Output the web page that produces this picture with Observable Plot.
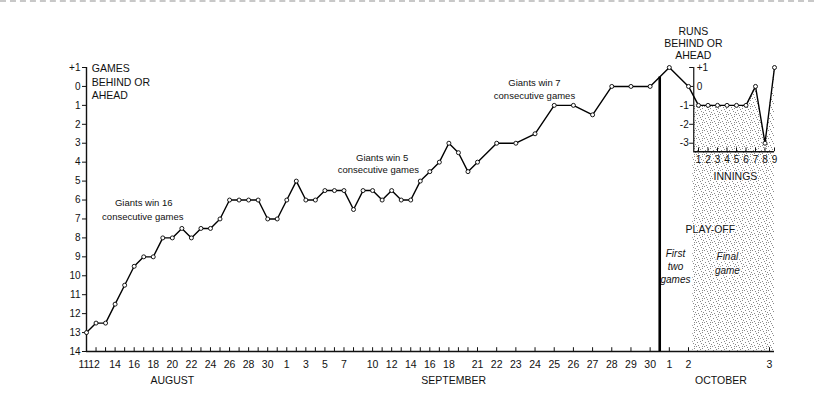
<!DOCTYPE html>
<html><head><meta charset="utf-8">
<script src="https://cdn.jsdelivr.net/npm/d3@7"></script>
<script src="https://cdn.jsdelivr.net/npm/@observablehq/plot@0.6"></script>
<style>
body{margin:0;background:#fff}
#chart{position:relative;width:814px;height:401px;border-top:2px dashed #c8c8c8;box-sizing:border-box}
</style>
</head><body><div id="chart"></div>
<script>
// ---- data ----
// day index: 0 = Aug 11, 21 = Sep 1, 51 = Oct 1
const days = [0,1,2,3,4,5,6,7,8,9,10,11,12,13,14,15,16,17,18,19,20,21,22,23,24,25,26,27,28,29,30,31,32,33,34,35,36,37,38,39,40,41,42,43,44,45,46,47,48,49,50,51,52];
const gamesBehind = [13,12.5,12.5,11.5,10.5,9.5,9,9,8,8,7.5,8,7.5,7.5,7,6,6,6,6,7,7,6,5,6,6,5.5,5.5,5.5,6.5,5.5,5.5,6,5.5,6,6,5,4.5,4,3,3.5,4.5,4,3,3,2.5,1,1,1.5,0,0,0,-1,0];
const innings = [1,2,3,4,5,6,7,8,9];
const runsAhead = [-1,-1,-1,-1,-1,-1,0,-3,1];
const yTickValues = [-1,0,1,2,3,4,5,6,7,8,9,10,11,12,13,14];
const yTickLabels = ["+1","0","1","2","3","4","5","6","7","8","9","10","11","12","13","14"];
const xTickDays = [0,1,3,5,7,9,11,13,15,17,19,21,23,25,27,30,32,34,36,38,41,42,43,44,45,46,47,48,49,50,51,52,53];
const xTickLabels = ["11","12","14","16","18","20","22","24","26","28","30","1","3","5","7","10","12","14","16","18","21","22","23","24","25","26","27","28","29","30","1","2","3"];
const months = ["AUGUST","SEPTEMBER","OCTOBER"];
const monthCenters = [9, 38.5, 52.4];
const insetTickRuns = [1,0,-1,-2,-3];
const insetTickLabels = ["+1","0","-1","-2","-3"];

// ---- layout helpers ----
const inningDay = i => 52 + (0.5 + 9.5 * i) / 81;   // final game drawn inside the Oct 2–3 slot
const insetBase = 3.45;
const STIP = "#fefefd";
const FONT = "Liberation Sans, Arial, sans-serif";

const season = days.map((d, i) => ({x: d, y: gamesBehind[i]}));
const finalGame = innings.map((n, i) => ({x: inningDay(n), y: -runsAhead[i]}));
const series = season.concat(finalGame);
const areaData = [{x: inningDay(0.5), y: -runsAhead[0]}].concat(finalGame);

const allDays = d3.range(0, 54);
const xTicks = xTickDays.map((d, i) => ({d, label: xTickLabels[i], i}));
const insetTicks = insetTickRuns.map((r, i) => ({r, label: insetTickLabels[i]}));

const txt = (t, x, y, o = {}) => Plot.text([t], {x: () => x, y: () => y, text: d => d, fontSize: 10, fill: "#111", fontFamily: FONT, ...o});

const chart = Plot.plot({
  width: 814, height: 401,
  marginLeft: 86, marginTop: 65, marginBottom: 52, marginRight: 40,
  style: {fontFamily: FONT, background: "transparent"},
  x: {type: "linear", domain: [0, 41, 52, 53], range: [86, 477, 688, 769], axis: null},
  y: {domain: [14, -1], axis: null},
  marks: [
    // stippled play-off panel
    Plot.rect([0], {x1: () => inningDay(0.4), x2: () => inningDay(9), y1: () => insetBase, y2: () => 14, fill: STIP}),
    Plot.areaY(areaData, {x: "x", y1: insetBase, y2: "y", fill: STIP}),
    // main axes
    Plot.ruleX([0], {y1: -1, y2: 14, stroke: "#111", strokeWidth: 1.4}),
    Plot.ruleY([14], {x1: 0, x2: inningDay(9), stroke: "#111", strokeWidth: 1.3}),
    Plot.ruleX(allDays, {x: d => d, y1: 14, y2: 13.8, stroke: "#111", strokeWidth: 1}),
    Plot.text(xTicks.filter(t => t.i === 0), {x: "d", y: 14, text: "label", dy: 13, dx: -2.5, fontSize: 10.5, fill: "#111"}),
    Plot.text(xTicks.filter(t => t.i === 1), {x: "d", y: 14, text: "label", dy: 13, dx: -2, fontSize: 10.5, fill: "#111"}),
    Plot.text(xTicks.filter(t => t.i > 1), {x: "d", y: 14, text: "label", dy: 13, fontSize: 10.5, fill: "#111"}),
    Plot.text(months, {x: (d, i) => monthCenters[i], y: 14, text: d => d, dy: 29, fontSize: 10.5, fill: "#111"}),
    Plot.ruleY(yTickValues, {y: d => d, x1: -0.42, x2: 0, stroke: "#111"}),
    Plot.text(yTickValues, {x: 0, y: d => d, text: (d, i) => yTickLabels[i], textAnchor: "end", dx: -6, fontSize: 10, fill: "#111"}),
    // boundary between season and play-off
    Plot.ruleX([50.5], {y1: -0.5, y2: 14, stroke: "#000", strokeWidth: 2.6}),
    // inset axes
    Plot.ruleX([inningDay(0.5)], {y1: -1, y2: insetBase, stroke: "#111", strokeWidth: 1.2}),
    Plot.ruleY(insetTickRuns, {y: d => -d, x1: inningDay(0.5) - 0.05, x2: inningDay(0.5), stroke: "#111"}),
    Plot.text(insetTicks.filter(t => t.r >= 0), {x: () => inningDay(0.5), y: t => -t.r, text: "label", textAnchor: "start", dx: 3, fontSize: 10, fill: "#111"}),
    Plot.text(insetTicks.filter(t => t.r < 0), {x: () => inningDay(0.5), y: t => -t.r, text: "label", textAnchor: "end", dx: -5, fontSize: 10, fill: "#111"}),
    Plot.ruleY([insetBase], {x1: inningDay(0.5), x2: inningDay(9), stroke: "#111", strokeWidth: 1.3}),
    Plot.ruleX(innings, {x: d => inningDay(d), y1: insetBase, y2: insetBase - 0.2, stroke: "#111"}),
    Plot.text(innings, {x: d => inningDay(d), y: insetBase, text: d => String(d), dy: 8, fontSize: 10, fill: "#111"}),
    // data line
    Plot.line(series, {x: "x", y: "y", stroke: "#000", strokeWidth: 1.4}),
    Plot.dot(series, {x: "x", y: "y", r: 2, fill: "#fff", stroke: "#000", strokeWidth: 0.9}),
    // labels
    txt("GAMES", 0.55, -0.96, {textAnchor: "start", fontSize: 10.5}),
    txt("BEHIND OR", 0.55, -0.21, {textAnchor: "start", fontSize: 10.5}),
    txt("AHEAD", 0.55, 0.48, {textAnchor: "start", fontSize: 10.5}),
    txt("RUNS", 52.06, -2.9, {fontSize: 10.5}),
    txt("BEHIND OR", 52.06, -2.27, {fontSize: 10.5}),
    txt("AHEAD", 52.06, -1.63, {fontSize: 10.5}),
    txt("Giants win 16", 6.0, 6.13, {fontSize: 9.5}),
    txt("consecutive games", 5.9, 6.87, {fontSize: 9.5}),
    txt("Giants win 5", 31.0, 3.76, {fontSize: 9.5}),
    txt("consecutive games", 30.6, 4.39, {fontSize: 9.5}),
    txt("Giants win 7", 43.97, -0.21, {fontSize: 9.5}),
    txt("consecutive games", 43.97, 0.48, {fontSize: 9.5}),
    txt("INNINGS", 52.58, 4.76, {fontSize: 10.5, stroke: "#fff", strokeWidth: 2}),
    txt("PLAY-OFF", 52.27, 7.56, {fontSize: 10.5, stroke: "#fff", strokeWidth: 2.5}),
    txt("First", 51.32, 8.83, {fontStyle: "italic"}),
    txt("two", 51.32, 9.51, {fontStyle: "italic"}),
    txt("games", 51.32, 10.2, {fontStyle: "italic"}),
    txt("Final", 52.48, 8.98, {fontStyle: "italic", stroke: "#fff", strokeWidth: 2.5}),
    txt("game", 52.48, 9.72, {fontStyle: "italic", stroke: "#fff", strokeWidth: 2.5})
  ]
});

// stipple pattern for the play-off panel
const svg = d3.select(chart);
const defs = svg.insert("defs", ":first-child");
const pat = defs.append("pattern").attr("id", "stip").attr("width", 8).attr("height", 8).attr("patternUnits", "userSpaceOnUse");
pat.append("rect").attr("width", 8).attr("height", 8).attr("fill", "#fff");
[[0,0],[3,1],[6,2],[1,4],[5,5],[2,7],[7,6],[4,3],[6,0]].forEach(([a, b]) =>
  pat.append("rect").attr("x", a).attr("y", b).attr("width", 1).attr("height", 1).attr("fill", "#8a8a8a"));
svg.selectAll(`[fill="${STIP}"]`).attr("fill", "url(#stip)");

document.getElementById("chart").appendChild(chart);
</script>
</body></html>
